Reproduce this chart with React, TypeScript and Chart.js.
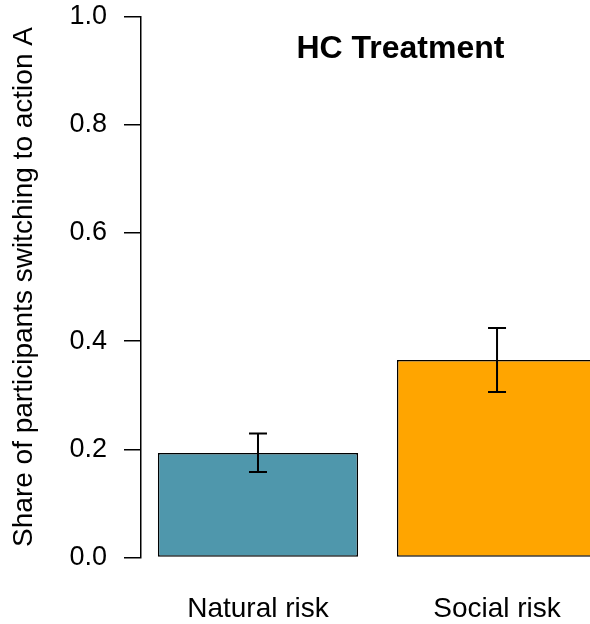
import React, { useEffect, useRef } from "react";
import { Chart, registerables } from "chart.js";

Chart.register(...registerables);

// ---- data ----
const categories = ["Natural risk", "Social risk"];
const shares = [0.193, 0.365];
const ciLower = [0.158, 0.306];
const ciUpper = [0.229, 0.424];
const barColors = ["#4F97AC", "#FFA500"];
const yTickValues = [0, 0.2, 0.4, 0.6, 0.8, 1.0];
const chartTitle = "HC Treatment";
const yAxisTitle = "Share of participants switching to action A";

// R barplot layout: bar width 1, space 0.2 -> centres at 0.7, 1.9
const barPositions = categories.map((_, i) => 0.7 + 1.2 * i);

const FONT = "'Liberation Sans', Arial, Helvetica, sans-serif";

const annotations = {
  id: "annotations",
  afterDatasetsDraw(chart: any) {
    const { ctx, scales } = chart;
    const x = scales.x;
    const y = scales.y;
    ctx.save();
    ctx.strokeStyle = "#000";
    ctx.lineWidth = 2;
    barPositions.forEach((p, i) => {
      const px = x.getPixelForValue(p);
      const top = y.getPixelForValue(ciUpper[i]);
      const bot = y.getPixelForValue(ciLower[i]);
      ctx.beginPath();
      ctx.moveTo(px, top);
      ctx.lineTo(px, bot);
      ctx.moveTo(px - 9, top);
      ctx.lineTo(px + 9, top);
      ctx.moveTo(px - 9, bot);
      ctx.lineTo(px + 9, bot);
      ctx.stroke();
    });
    ctx.font = `bold 32px ${FONT}`;
    ctx.fillStyle = "#000";
    ctx.textAlign = "center";
    ctx.textBaseline = "alphabetic";
    ctx.fillText(chartTitle, x.getPixelForValue(1.415), y.getPixelForValue(0.923));
    ctx.restore();
  },
};

export default function App() {
  const canvasRef = useRef<HTMLCanvasElement | null>(null);

  useEffect(() => {
    if (!canvasRef.current) return;
    const chart = new Chart(canvasRef.current, {
      type: "bar",
      data: {
        datasets: [
          {
            data: barPositions.map((p, i) => ({ x: p, y: shares[i] })),
            backgroundColor: barColors,
            borderColor: "#000",
            borderWidth: 1.5,
            borderSkipped: false,
            categoryPercentage: 1,
            barPercentage: 0.8375,
          } as any,
        ],
      },
      options: {
        animation: false,
        responsive: true,
        maintainAspectRatio: false,
        layout: { padding: 0 },
        plugins: {
          legend: { display: false },
          tooltip: { enabled: false },
          title: { display: false },
        },
        scales: {
          x: {
            type: "linear",
            offset: false,
            min: 0.1127,
            max: 2.3667,
            afterBuildTicks: (scale: any) => {
              scale.ticks = barPositions.map((v) => ({ value: v }));
            },
            afterFit: (scale: any) => {
              scale.height = 66.5;
              scale.paddingLeft = 0;
              scale.paddingRight = 0;
            },
            grid: { display: false, drawTicks: false, offset: false },
            border: { display: false },
            ticks: {
              autoSkip: false,
              maxRotation: 0,
              padding: 35,
              color: "#000",
              font: { family: FONT, size: 28 },
              callback: (_v: any, index: number) => categories[index],
            },
          },
          y: {
            min: 0,
            max: 1,
            afterBuildTicks: (scale: any) => {
              scale.ticks = yTickValues.map((v) => ({ value: v }));
            },
            afterFit: (scale: any) => {
              scale.width = 141;
              scale.paddingTop = 16.5;
              scale.paddingBottom = 16.5;
            },
            grid: {
              drawOnChartArea: false,
              drawTicks: true,
              tickLength: 17,
              color: "#000",
              lineWidth: 1.5,
            },
            border: { display: true, color: "#000", width: 1.5 },
            ticks: {
              padding: 17,
              color: "#000",
              font: { family: FONT, size: 27 },
              callback: (v: any) => Number(v).toFixed(1),
            },
            title: {
              display: true,
              text: yAxisTitle,
              color: "#000",
              font: { family: FONT, size: 28 },
              padding: { top: 7, bottom: 0 },
            },
          },
        },
      },
      plugins: [annotations],
    });
    return () => chart.destroy();
  }, []);

  return (
    <div style={{ position: "absolute", left: 0, top: 0, width: 590, height: 624 }}>
      <canvas ref={canvasRef} />
    </div>
  );
}
